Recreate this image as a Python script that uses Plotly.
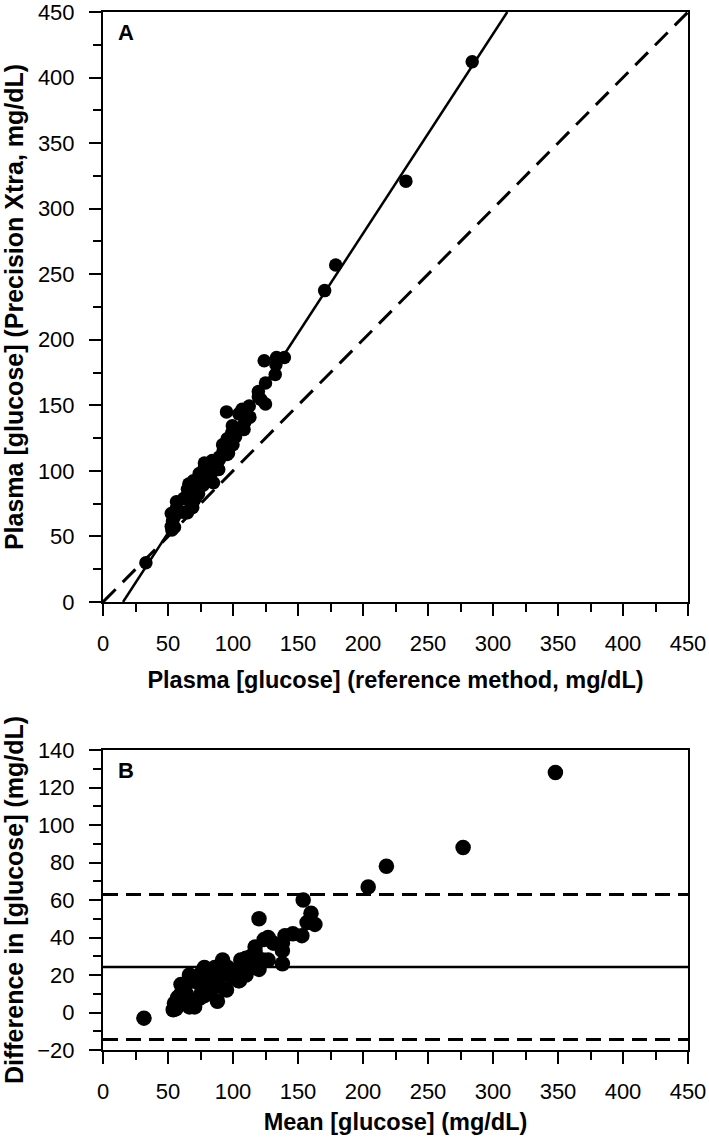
import plotly.graph_objects as go

# ---------------- Panel A data: reference method vs Precision Xtra (mg/dL)
ref_a = [33, 124, 133.5, 133, 139.5, 132.5, 125, 119.5, 119.5, 125, 121.5, 112.5, 107, 104.5,
         95, 109, 113, 108.5, 101, 99, 95.5, 92, 97, 100, 96.5, 92.5, 89.5, 84, 78, 78, 83, 89,
         85, 83, 77.5, 72.5, 72.5, 71, 70.5, 69.5, 69, 65, 61.5, 59, 56, 55, 53.5, 52.5, 53, 55,
         56.5, 62, 65, 66, 69.5, 74, 65, 71, 73.5, 77, 56.5, 52.5, 95.5, 89.5, 102, 99.5,
         170.5, 179, 233, 284]
xtra_a = [30, 184, 186.5, 181, 186.5, 173.5, 167, 160.5, 156.5, 151, 154.5, 149.5, 147, 143.5,
          145, 137, 141, 131.5, 133, 129, 124.5, 120, 121, 120, 113.5, 115.5, 110.5, 108, 106, 103,
          104, 101, 91, 97, 94.5, 93.5, 89.5, 85, 80.5, 76.5, 72, 68, 68.5, 69, 70, 65, 61.5, 57.5,
          55, 57, 76.5, 79, 86, 90, 92.5, 98, 81, 79, 82.5, 89, 71.5, 67.5, 112.5, 108.5, 126,
          134.5, 237.5, 257, 321, 412]

# regression line end points and identity line
reg_x = [15.4, 311]
reg_y = [0, 450]
ident = [0, 450]

# ---------------- Panel B data: Bland-Altman (mean, difference)
mean_b = [31.5, 154, 160, 157, 163, 153, 146, 140, 138, 138, 138, 131, 127, 124, 120, 123,
          127, 120, 117, 114, 110, 106, 109, 110, 105, 104, 100, 96, 92, 90.5, 93.5, 95, 88,
          90, 86, 83, 81, 78, 75.5, 73, 70.5, 66.5, 65, 64, 63, 60, 57.5, 55, 54, 56, 66.5,
          70.5, 75.5, 78, 81, 86, 73, 75, 78, 83, 64, 60, 104, 99, 114, 117, 204, 218, 277, 348]
diff_b = [-3, 60, 53, 48, 47, 41, 42, 41, 37, 26, 33, 37, 40, 39, 50, 28, 28, 23, 32, 30, 29,
          28, 24, 20, 17, 23, 21, 24, 28, 25, 21, 12, 6, 14, 17, 21, 17, 14, 10, 7, 3, 3, 7, 10,
          14, 10, 8, 5, 1.5, 2, 20, 17, 21, 24, 23, 24, 16, 8, 9, 12, 15, 15, 17, 19, 24, 35,
          67, 78, 88, 128]
bias = 24.3
loa_upper = 63.0
loa_lower = -14.4
line_x = [0, 450]

FONT = "Arial, Liberation Sans, sans-serif"

fig = go.Figure()

fig.add_trace(go.Scatter(x=ident, y=ident, mode="lines", xaxis="x", yaxis="y",
                         line=dict(color="black", width=3, dash="18px,10px")))
fig.add_trace(go.Scatter(x=reg_x, y=reg_y, mode="lines", xaxis="x", yaxis="y",
                         line=dict(color="black", width=2.5)))
fig.add_trace(go.Scatter(x=ref_a, y=xtra_a, mode="markers", xaxis="x", yaxis="y",
                         marker=dict(color="black", size=13.5)))

fig.add_trace(go.Scatter(x=line_x, y=[bias, bias], mode="lines", xaxis="x2", yaxis="y2",
                         line=dict(color="black", width=2.5)))
fig.add_trace(go.Scatter(x=line_x, y=[loa_upper, loa_upper], mode="lines", xaxis="x2", yaxis="y2",
                         line=dict(color="black", width=3, dash="15px,8px")))
fig.add_trace(go.Scatter(x=line_x, y=[loa_lower, loa_lower], mode="lines", xaxis="x2", yaxis="y2",
                         line=dict(color="black", width=3, dash="15px,8px")))
fig.add_trace(go.Scatter(x=mean_b, y=diff_b, mode="markers", xaxis="x2", yaxis="y2",
                         marker=dict(color="black", size=15.5)))

W, H = 709, 1145
top, bottom = 12, 95
ph = H - top - bottom
domA = [(1050 - 602) / ph, 1.0]
domB = [0.0, (1050 - 750) / ph]

tickfont = dict(family=FONT, size=22, color="black")

def ax(rng, dtick, minor, domain, title, tsize, standoff, lab_standoff, anchor):
    return dict(range=rng, dtick=dtick, tick0=0, domain=domain, anchor=anchor,
                showgrid=False, zeroline=False, showline=True, linecolor="black", linewidth=2,
                mirror=True, ticks="outside", ticklen=12, tickwidth=2, tickcolor="black",
                minor=dict(dtick=minor, ticks="outside", ticklen=8, tickwidth=2, tickcolor="black",
                           showgrid=False),
                tickfont=tickfont, ticklabelstandoff=lab_standoff, ticklabeloverflow="allow",
                title=dict(text=title, standoff=standoff,
                           font=dict(family=FONT, size=tsize, color="black", weight="bold")))

fig.update_layout(
    width=W, height=H,
    margin=dict(l=103, r=21, t=top, b=bottom, autoexpand=False),
    paper_bgcolor="white", plot_bgcolor="white",
    showlegend=False,
    hovermode=False,
    xaxis=ax([0, 450], 50, 25, [0, 1], "Plasma [glucose] (reference method, mg/dL)", 23.5, 16, 9, "y"),
    yaxis=ax([0, 450], 50, 25, domA, "Plasma [glucose] (Precision Xtra, mg/dL)", 25, 13, 10, "x"),
    xaxis2=ax([0, 450], 50, 25, [0, 1], "Mean [glucose] (mg/dL)", 23.5, 10, 9, "y2"),
    yaxis2=ax([-20, 140], 20, 10, domB, "Difference in [glucose] (mg/dL)", 25, 13, 10, "x2"),
    annotations=[
        dict(text="<b>A</b>", xref="x domain", yref="y domain", x=0.04, y=0.965,
             xanchor="center", yanchor="middle", showarrow=False,
             font=dict(family=FONT, size=22, color="black")),
        dict(text="<b>B</b>", xref="x2 domain", yref="y2 domain", x=0.04, y=0.933,
             xanchor="center", yanchor="middle", showarrow=False,
             font=dict(family=FONT, size=22, color="black")),
    ],
)

fig.write_html("out.html", config={"displayModeBar": False},
               post_script="document.body.style.margin='0';document.body.style.overflow='hidden';")
